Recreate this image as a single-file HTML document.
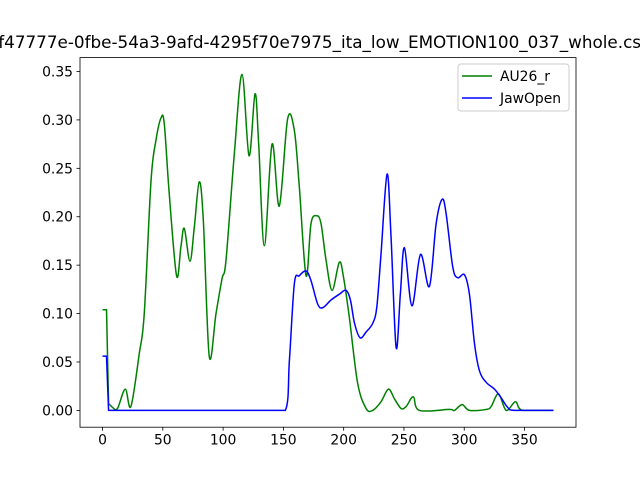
<!DOCTYPE html>
<html><head><meta charset="utf-8"><style>
html,body{margin:0;padding:0;background:#fff;overflow:hidden}
svg{display:block;font-family:"DejaVu Sans","Liberation Sans",sans-serif}
</style></head><body>
<svg id="chart" width="640" height="480" viewBox="0 0 640 480">
<rect width="640" height="480" fill="#fff"/>
<text x="320" y="48" text-anchor="middle" font-size="16.4" textLength="662" lengthAdjust="spacingAndGlyphs" fill="#000">cf47777e-0fbe-54a3-9afd-4295f70e7975_ita_low_EMOTION100_037_whole.csv</text>
<g id="plot"></g>
</svg>
<script>
const xTicks=[0,50,100,150,200,250,300,350];
const yTicks=[0,0.05,0.10,0.15,0.20,0.25,0.30,0.35];
const yTickLabels=["0.00","0.05","0.10","0.15","0.20","0.25","0.30","0.35"];
const seriesNames=["AU26_r","JawOpen"];
const au26X=[0,3.3,5,8.3,12.4,18.8,23.5,30.5,34.6,40.2,44.3,48.5,51.2,55.3,61.4,65,67.8,72.5,76.1,80.2,83.6,88.5,94.1,99.1,102.4,109.3,115.7,121.5,126.5,129.5,134.2,140.6,146.6,153.5,159.1,163.2,168.8,172.9,177.6,181.2,185.4,190.4,196.4,199.8,204.7,211.6,218.6,224.1,231,237.1,242.1,247.6,251.8,257.8,262.8,287.7,291.9,298.2,304.3,318.2,322.3,328.4,334.8,342.5,348.5,374];
const au26Y=[0.104,0.104,0.007,0.003,0.002,0.022,0.004,0.059,0.1,0.237,0.279,0.302,0.296,0.224,0.139,0.169,0.188,0.154,0.189,0.236,0.196,0.056,0.1,0.136,0.155,0.265,0.347,0.263,0.327,0.275,0.170,0.275,0.211,0.301,0.289,0.231,0.139,0.193,0.201,0.193,0.155,0.124,0.153,0.138,0.096,0.028,0.002,0.0,0.009,0.022,0.012,0.002,0.004,0.014,0.0,0.001,0.0,0.006,0.0,0.001,0.004,0.017,0.0,0.009,0.0,0.0];
const jawX=[0,3.3,5,151.6,155,159.1,163.2,168.8,172.9,178.4,182.6,189.5,196.4,202,205.6,209,213.6,218.6,224.1,227.5,231,236,239.3,243.5,247,250.4,256.6,263.7,271.1,276.7,281.7,285,290.5,294.6,300.2,304.3,308.5,312.6,318.2,325.1,330.6,336.1,341.7,374];
const jawY=[0.056,0.056,0.0,0.0,0.052,0.131,0.139,0.144,0.134,0.110,0.106,0.114,0.120,0.124,0.114,0.09,0.075,0.081,0.09,0.107,0.162,0.244,0.179,0.065,0.120,0.168,0.108,0.161,0.128,0.193,0.218,0.203,0.148,0.137,0.140,0.120,0.069,0.041,0.029,0.022,0.013,0.003,0.0,0.0];
const L=80,R=576,T=57.6,B=427.2,XMIN=-18.7,XMAX=392.7,YMIN=-0.01735,YMAX=0.36435;
const sx=v=>L+(v-XMIN)/(XMAX-XMIN)*(R-L);
const sy=v=>B-(v-YMIN)/(YMAX-YMIN)*(B-T);
const NS="http://www.w3.org/2000/svg";
const g=document.getElementById('plot');
function mk(tag,attrs,parent){const e=document.createElementNS(NS,tag);for(const k in attrs)e.setAttribute(k,attrs[k]);(parent||g).appendChild(e);return e;}
function smoothPath(xs,ys){
  const P=xs.map((x,i)=>[sx(x),sy(ys[i])]);
  let d="M"+P[0][0].toFixed(2)+","+P[0][1].toFixed(2);
  for(let i=0;i<P.length-1;i++){
    const p0=P[Math.max(0,i-1)],p1=P[i],p2=P[i+1],p3=P[Math.min(P.length-1,i+2)];
    const straight=(p1[1]===p2[1])||(p2[0]-p1[0]<3)||(p1[0]-p0[0]<3&&i>0);
    const k=straight?0:1/6;
    let c1x=p1[0]+(p2[0]-p0[0])*k,c1y=p1[1]+(p2[1]-p0[1])*k;
    let c2x=p2[0]-(p3[0]-p1[0])*k,c2y=p2[1]-(p3[1]-p1[1])*k;
    c1x=Math.min(Math.max(c1x,p1[0]),p2[0]);c2x=Math.min(Math.max(c2x,p1[0]),p2[0]);
    d+=" C"+c1x.toFixed(2)+","+c1y.toFixed(2)+" "+c2x.toFixed(2)+","+c2y.toFixed(2)+" "+p2[0].toFixed(2)+","+p2[1].toFixed(2);
  }
  return d;
}
function line(xs,ys,color,name){
  const p=mk('path',{d:smoothPath(xs,ys),fill:"none",stroke:color,"stroke-width":1.5,"stroke-linejoin":"round"});
  
  
}
line(au26X,au26Y,"#008000","au26-line");
line(jawX,jawY,"#0000ff","jawopen-line");
const frame=mk('rect',{x:L,y:T,width:R-L,height:B-T,fill:"none",stroke:"#000","stroke-width":0.8});


xTicks.forEach(v=>{
  const x=sx(v);
  const t=mk('line',{x1:x,x2:x,y1:B,y2:B+3.5,stroke:"#000","stroke-width":0.8});
  
  
  const l=mk('text',{x:x,y:B+17.5,"text-anchor":"middle","font-size":13.9});
  l.textContent=v;
  
  
});
yTicks.forEach((v,i)=>{
  const y=sy(v);
  const t=mk('line',{x1:L-3.5,x2:L,y1:y,y2:y,stroke:"#000","stroke-width":0.8});
  
  
  const l=mk('text',{x:L-7,y:y+5,"text-anchor":"end","font-size":13.9});
  l.textContent=yTickLabels[i];
  
  
});
const lg=mk('g',{});


mk('rect',{x:458,y:64,width:111,height:47,rx:3,fill:"#fff","fill-opacity":0.8,stroke:"#ccc","stroke-width":1},lg);
const colors=["#008000","#0000ff"];
seriesNames.forEach((n,i)=>{
  const y=76+i*22;
  const e=mk('g',{},lg);
  
  
  mk('line',{x1:462,x2:492,y1:y,y2:y,stroke:colors[i],"stroke-width":1.5},e);
  const t=mk('text',{x:500,y:y+5,"font-size":13.9},e);
  t.textContent=n;
});
</script>
</body></html>
